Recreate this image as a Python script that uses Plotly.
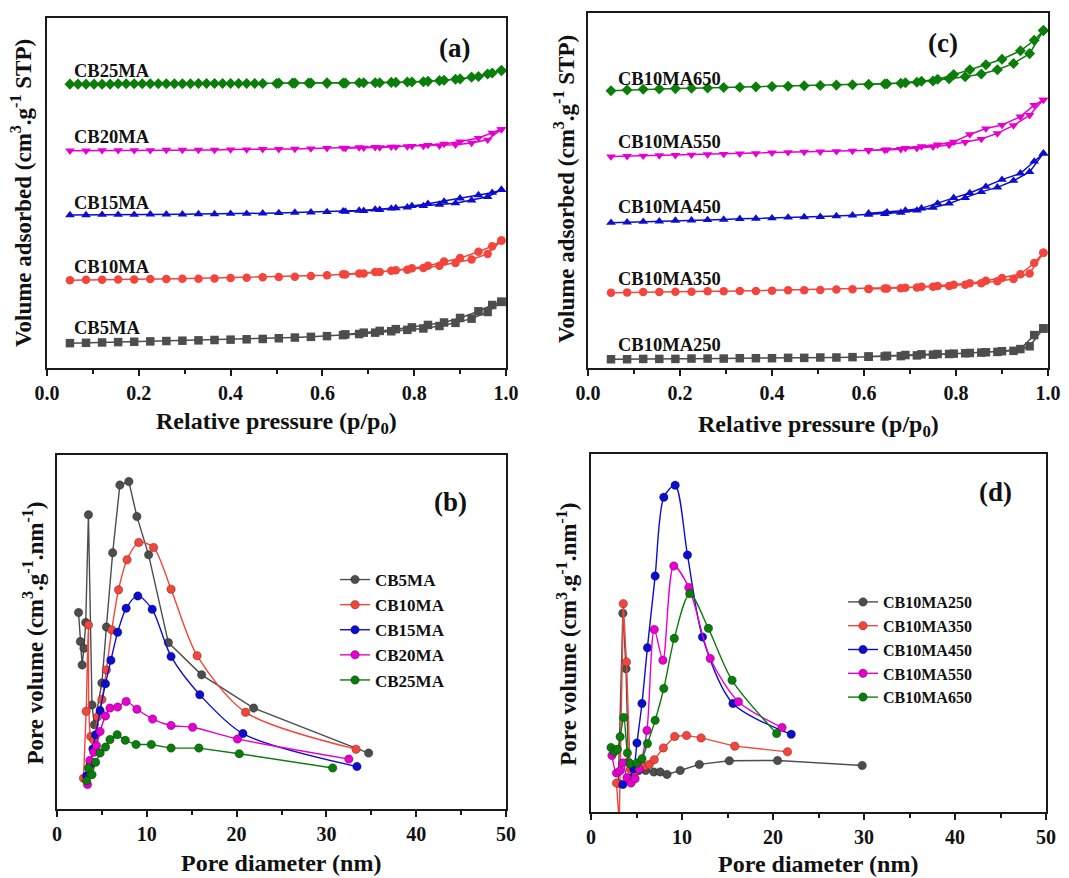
import plotly.graph_objects as go

FONT = "Liberation Serif"
GRAY = "#4d4d4d"
RED = "#f2463c"
BLUE = "#0d0dcf"
MAGENTA = "#e600d0"
GREEN = "#0a7d0a"

# ---------------- (a) / (c) isotherms ----------------
P_ADS = [0.05, 0.085, 0.12, 0.155, 0.19, 0.225, 0.26, 0.295, 0.33, 0.365, 0.40, 0.435, 0.47, 0.505,
         0.54, 0.575, 0.61, 0.645, 0.68, 0.715, 0.75, 0.785, 0.82, 0.855, 0.89, 0.925, 0.96, 0.99]
P_DES_A = [0.99, 0.97, 0.94, 0.90, 0.865, 0.83, 0.795, 0.76, 0.725, 0.69, 0.65]
P_DES_A25 = [0.99, 0.97, 0.94, 0.90, 0.865, 0.83, 0.795, 0.76, 0.725, 0.69, 0.65, 0.61, 0.57, 0.535, 0.50,
             0.4525, 0.4175, 0.3825, 0.3475, 0.3125, 0.2775, 0.2425, 0.2075, 0.1725, 0.1375, 0.1025, 0.0675]
P_DES_C = [0.99, 0.97, 0.94, 0.90, 0.865, 0.83, 0.795, 0.76, 0.725, 0.69, 0.65, 0.61]

A_NAMES = ["CB5MA", "CB10MA", "CB15MA", "CB20MA", "CB25MA"]
A_ADS = {
    "CB5MA": [7.1, 7.2, 7.3, 7.4, 7.5, 7.6, 7.7, 7.8, 7.9, 8.0, 8.1, 8.2, 8.3, 8.5, 8.7, 8.9, 9.1, 9.4, 9.7, 10.1,
              10.5, 10.9, 11.3, 12.0, 12.9, 14.1, 16.0, 18.9],
    "CB10MA": [25.1, 25.2, 25.2, 25.3, 25.3, 25.4, 25.4, 25.5, 25.5, 25.6, 25.7, 25.8, 25.9, 26.0, 26.1, 26.3,
               26.5, 26.8, 27.0, 27.4, 27.8, 28.1, 28.6, 29.2, 30.0, 31.0, 32.6, 36.4],
    "CB15MA": [43.7, 43.7, 43.8, 43.8, 43.8, 43.9, 43.9, 43.9, 44.0, 44.0, 44.1, 44.1, 44.2, 44.3, 44.4, 44.5,
               44.6, 44.8, 45.0, 45.3, 45.6, 45.9, 46.3, 46.7, 47.1, 47.9, 48.9, 50.9],
    "CB20MA": [62.1, 62.1, 62.2, 62.2, 62.2, 62.2, 62.3, 62.3, 62.3, 62.3, 62.4, 62.4, 62.5, 62.5, 62.6, 62.7,
               62.8, 62.9, 63.0, 63.1, 63.2, 63.3, 63.4, 63.5, 63.8, 64.3, 65.2, 68.2],
    "CB25MA": [81.1, 81.1, 81.1, 81.2, 81.2, 81.2, 81.2, 81.2, 81.3, 81.3, 81.3, 81.3, 81.3, 81.4, 81.4, 81.4,
               81.4, 81.4, 81.5, 81.5, 81.6, 81.7, 81.8, 82.1, 82.5, 83.1, 84.0, 85.0],
}
A_DES = {
    "CB5MA": [18.9, 18.0, 16.2, 14.3, 13.0, 12.3, 11.6, 11.1, 10.6, 10.1, 9.6],
    "CB10MA": [36.4, 34.8, 33.2, 31.4, 30.4, 29.2, 28.5, 27.9, 27.4, 27.0, 26.7],
    "CB15MA": [50.9, 50.1, 49.4, 48.5, 47.6, 46.9, 46.3, 45.7, 45.2, 44.9, 44.7],
    "CB20MA": [68.2, 67.2, 65.7, 64.7, 64.0, 63.7, 63.4, 63.2, 63.0, 62.9, 62.8],
    "CB25MA": [85.0, 84.3, 83.3, 82.6, 82.2, 81.9, 81.7, 81.6, 81.5, 81.5, 81.4, 81.4, 81.4, 81.4, 81.3,
               81.3, 81.3, 81.3, 81.3, 81.2, 81.2, 81.2, 81.2, 81.2, 81.1, 81.1, 81.1],
}
A_LABEL_Y = [11.4, 29.0, 47.1, 66.0, 84.9]

C_NAMES = ["CB10MA250", "CB10MA350", "CB10MA450", "CB10MA550", "CB10MA650"]
C_ADS = {
    "CB10MA250": [2.5, 2.5, 2.6, 2.6, 2.6, 2.7, 2.7, 2.7, 2.8, 2.8, 2.8, 2.9, 2.9, 3.0, 3.0, 3.1, 3.2, 3.3,
                  3.4, 3.6, 3.8, 4.0, 4.2, 4.4, 4.6, 4.9, 6.2, 11.3],
    "CB10MA350": [21.5, 21.6, 21.7, 21.7, 21.8, 21.8, 21.9, 21.9, 22.0, 22.0, 22.1, 22.2, 22.2, 22.3, 22.4,
                  22.5, 22.6, 22.7, 22.8, 23.0, 23.2, 23.4, 23.8, 24.2, 24.8, 25.4, 27.0, 32.9],
    "CB10MA450": [41.5, 41.6, 41.8, 41.9, 42.1, 42.2, 42.3, 42.4, 42.6, 42.7, 42.8, 43.0, 43.1, 43.2, 43.4,
                  43.6, 43.8, 44.0, 44.4, 45.0, 45.8, 47.0, 48.6, 50.3, 51.6, 53.5, 56.0, 61.3],
    "CB10MA550": [60.4, 60.5, 60.6, 60.7, 60.8, 60.9, 61.0, 61.1, 61.2, 61.3, 61.5, 61.6, 61.7, 61.8, 61.9,
                  62.0, 62.1, 62.3, 62.5, 62.8, 63.2, 63.7, 64.5, 65.4, 67.0, 69.3, 72.2, 76.6],
    "CB10MA650": [79.2, 79.4, 79.6, 79.7, 79.8, 79.9, 80.0, 80.1, 80.2, 80.3, 80.4, 80.5, 80.6, 80.7, 80.8,
                  80.9, 81.0, 81.1, 81.3, 81.6, 82.0, 82.6, 83.2, 84.0, 85.2, 87.0, 89.8, 96.4],
}
C_DES = {
    "CB10MA250": [11.3, 9.4, 5.4, 4.8, 4.5, 4.3, 4.1, 4.0, 3.9, 3.7, 3.5, 3.3],
    "CB10MA350": [32.9, 30.0, 26.8, 25.7, 24.9, 24.2, 23.8, 23.4, 23.2, 22.9, 22.7, 22.6],
    "CB10MA450": [61.3, 59.0, 55.6, 53.8, 51.8, 50.0, 48.6, 47.0, 45.6, 45.0, 44.5, 44.2],
    "CB10MA550": [76.6, 75.1, 71.8, 69.4, 68.4, 66.7, 64.6, 63.8, 63.3, 62.8, 62.4, 62.2],
    "CB10MA650": [96.4, 93.6, 90.6, 88.2, 86.6, 85.2, 83.8, 82.5, 81.9, 81.5, 81.2, 81.0],
}
C_LABEL_Y = [6.7, 25.3, 45.9, 64.5, 82.6]

# ---------------- (b) / (d) pore size distributions ----------------
B_X = {
    "CB5MA": [2.4, 2.6, 2.8, 3.0, 3.2, 3.5, 3.9, 4.15, 5.0, 5.5, 6.2, 7.0, 8.0, 8.9, 10.2, 12.4, 16.1, 21.9, 34.7],
    "CB10MA": [2.95, 3.25, 3.5, 3.75, 4.1, 4.5, 5.0, 5.5, 6.1, 6.85, 7.8, 9.1, 10.75, 12.7, 15.6, 21.0, 33.3],
    "CB15MA": [3.3, 3.7, 4.0, 4.3, 4.8, 5.4, 6.0, 6.75, 7.7, 9.0, 10.6, 12.7, 15.9, 20.7, 33.4],
    "CB20MA": [3.4, 3.65, 4.1, 4.4, 4.8, 5.4, 5.9, 6.75, 7.7, 8.9, 10.65, 12.7, 15.1, 20.1, 32.5],
    "CB25MA": [3.3, 3.5, 3.9, 4.3, 4.8, 5.4, 5.9, 6.7, 7.6, 8.8, 10.5, 12.7, 15.8, 20.3, 30.7],
}
B_Y = {
    "CB5MA": [55.5, 47.3, 40.7, 45.4, 52.7, 83.1, 29.4, 23.8, 35.6, 51.4, 72.4, 91.5, 92.5, 82.6, 71.8, 47.0,
              37.9, 28.5, 15.8],
    "CB10MA": [8.7, 27.6, 52.0, 20.5, 19.5, 26.0, 30.9, 39.3, 50.6, 61.9, 70.4, 75.3, 73.9, 62.1, 43.3, 27.3, 16.9],
    "CB15MA": [9.4, 12.5, 17.0, 21.0, 27.8, 35.4, 42.0, 49.9, 56.7, 60.2, 56.4, 43.1, 32.3, 21.3, 12.0],
    "CB20MA": [6.9, 13.7, 16.0, 17.9, 21.9, 26.3, 28.5, 28.8, 30.4, 28.2, 25.4, 23.6, 23.1, 19.8, 14.1],
    "CB25MA": [8.0, 11.6, 9.7, 13.2, 15.8, 17.5, 19.6, 21.0, 19.4, 18.2, 18.2, 17.2, 17.2, 15.6, 11.6],
}
D_X = {
    "CB10MA250": [3.0, 3.5, 3.85, 4.1, 4.6, 5.2, 6.0, 6.9, 7.6, 8.35, 9.8, 11.9, 15.2, 20.5, 29.8],
    "CB10MA350": [2.8, 3.1, 3.55, 3.9, 4.3, 4.8, 5.3, 5.9, 6.4, 6.95, 7.95, 9.2, 10.5, 12.1, 15.8, 21.6],
    "CB10MA450": [3.5, 4.2, 4.7, 5.05, 5.6, 6.2, 7.05, 8.0, 9.25, 10.6, 12.25, 15.6, 22.0],
    "CB10MA550": [2.3, 2.8, 3.2, 3.5, 3.95, 4.4, 4.85, 5.3, 6.15, 6.95, 7.9, 9.1, 10.75, 13.1, 16.2, 21.0],
    "CB10MA650": [2.2, 2.55, 2.9, 3.2, 3.6, 4.0, 4.3, 5.05, 5.6, 6.2, 7.05, 8.0, 9.15, 10.85, 12.9, 15.5, 20.4],
}
D_Y = {
    "CB10MA250": [8.0, 55.5, 40.0, 14.0, 12.0, 11.5, 11.6, 11.2, 11.2, 10.5, 11.6, 13.3, 14.3, 14.4, 13.0],
    "CB10MA350": [8.1, -3.0, 58.2, 41.9, 12.0, 11.5, 12.0, 12.8, 13.3, 14.6, 17.9, 21.1, 21.4, 20.7, 18.4, 16.8],
    "CB10MA450": [7.7, 9.5, 12.1, 19.3, 30.3, 45.9, 65.9, 87.9, 91.3, 71.8, 48.9, 30.3, 21.7],
    "CB10MA550": [15.8, 10.9, 11.5, 13.7, 9.6, 8.1, 9.3, 12.0, 22.8, 51.0, 42.4, 68.7, 62.7, 42.9, 30.8, 23.6],
    "CB10MA650": [18.0, 16.8, 17.5, 21.0, 26.4, 16.5, 13.5, 13.7, 14.9, 19.1, 25.6, 34.5, 48.5, 61.0, 51.3,
                  36.8, 21.9],
}

COLORS = [GRAY, RED, BLUE, MAGENTA, GREEN]
ISO_SYMBOLS = ["square", "circle", "triangle-up", "triangle-down", "diamond"]
B_SHAPES = ["linear", "spline", "spline", "spline", "linear"]
D_SHAPES = ["linear", "linear", "spline", "spline", "spline"]

fig = go.Figure()

# (a)
for i, n in enumerate(A_NAMES):
    des_x = P_DES_A25 if n == "CB25MA" else P_DES_A
    fig.add_trace(go.Scatter(
        x=P_ADS + des_x, y=A_ADS[n] + A_DES[n], mode="lines+markers", name=n, showlegend=False,
        line=dict(color=COLORS[i], width=1.5),
        marker=dict(symbol=ISO_SYMBOLS[i], size=8.5, color=COLORS[i]),
        xaxis="x", yaxis="y"))
# (c)
for i, n in enumerate(C_NAMES):
    fig.add_trace(go.Scatter(
        x=P_ADS + P_DES_C, y=C_ADS[n] + C_DES[n], mode="lines+markers", name=n, showlegend=False,
        line=dict(color=COLORS[i], width=1.5),
        marker=dict(symbol=ISO_SYMBOLS[i], size=8.5, color=COLORS[i]),
        xaxis="x2", yaxis="y2"))
# (b)
for i, n in enumerate(A_NAMES):
    fig.add_trace(go.Scatter(
        x=B_X[n], y=B_Y[n], mode="lines+markers", name=n, legend="legend",
        line=dict(color=COLORS[i], width=1.4, shape=B_SHAPES[i], smoothing=0.8),
        marker=dict(symbol="circle", size=8.5, color=COLORS[i], line=dict(color="rgba(0,0,0,0.35)", width=0.8)),
        xaxis="x3", yaxis="y3"))
# (d)
for i, n in enumerate(C_NAMES):
    fig.add_trace(go.Scatter(
        x=D_X[n], y=D_Y[n], mode="lines+markers", name=n, legend="legend2",
        line=dict(color=COLORS[i], width=1.4, shape=D_SHAPES[i], smoothing=0.8),
        marker=dict(symbol="circle", size=8.5, color=COLORS[i], line=dict(color="rgba(0,0,0,0.35)", width=0.8)),
        xaxis="x4", yaxis="y4"))

W, H = 1069, 878


def dom_x(a, b):
    return [a / W, b / W]


def dom_y(top, bottom):
    return [1 - bottom / H, 1 - top / H]


frame = dict(showline=True, linecolor="#1a1a1a", linewidth=2, mirror=True, showgrid=False, zeroline=False,
             automargin=False)
tickfont = dict(family=FONT, size=20, color="#111", weight="bold")


def xax(dom, rng, dtick, minor, fmt):
    return dict(domain=dom, range=rng, dtick=dtick, tick0=0, tickformat=fmt, ticks="outside", ticklen=6,
                tickwidth=1.5, tickcolor="#1a1a1a", tickfont=tickfont,
                minor=dict(dtick=minor, ticks="outside", ticklen=4, tickwidth=1.5, tickcolor="#1a1a1a"), **frame)


def yax(dom, rng, anchor):
    return dict(domain=dom, range=rng, showticklabels=False, ticks="", anchor=anchor, **frame)


fig.update_layout(
    width=W, height=H, margin=dict(l=0, r=0, t=0, b=0, pad=0, autoexpand=False),
    paper_bgcolor="white", plot_bgcolor="white",
    font=dict(family=FONT, size=16, color="#111"),
    xaxis=xax(dom_x(47, 506), [0, 1.0], 0.2, 0.1, ".1f") | dict(anchor="y"),
    yaxis=yax(dom_y(18, 368), [0, 100], "x"),
    xaxis2=xax(dom_x(588, 1048), [0, 1.0], 0.2, 0.1, ".1f") | dict(anchor="y2"),
    yaxis2=yax(dom_y(13, 368), [0, 101.4], "x2"),
    xaxis3=xax(dom_x(57, 506), [0, 50], 10, 5, "d") | dict(anchor="y3"),
    yaxis3=yax(dom_y(455, 809), [0, 100], "x3"),
    xaxis4=xax(dom_x(591, 1046), [0, 50], 10, 5, "d") | dict(anchor="y4"),
    yaxis4=yax(dom_y(454, 812), [0, 100], "x4"),
    legend=dict(x=335 / W, y=1 - 562 / H, xanchor="left", yanchor="top", bgcolor="rgba(0,0,0,0)",
                font=dict(family=FONT, size=17, color="#111", weight="bold")),
    legend2=dict(x=843 / W, y=1 - 585 / H, xanchor="left", yanchor="top", bgcolor="rgba(0,0,0,0)",
                 font=dict(family=FONT, size=16, color="#111", weight="bold")),
)

ann = []
# series labels on isotherms
for n, yv in zip(A_NAMES, A_LABEL_Y):
    ann.append(dict(x=0.054, y=yv, xref="x", yref="y", text="<b>" + n + "</b>", showarrow=False,
                    xanchor="left", yanchor="middle", font=dict(family=FONT, size=18.5, color="#111")))
for n, yv in zip(C_NAMES, C_LABEL_Y):
    ann.append(dict(x=0.061, y=yv, xref="x2", yref="y2", text="<b>" + n + "</b>", showarrow=False,
                    xanchor="left", yanchor="middle", font=dict(family=FONT, size=18.5, color="#111")))

PANEL_TAGS = [("(a)", 454.7, 47.7), ("(c)", 943.3, 43.3), ("(b)", 450, 501.7), ("(d)", 995.7, 491.7)]
for t, px, py in PANEL_TAGS:
    ann.append(dict(x=px / W, y=1 - py / H, xref="paper", yref="paper", text="<b>" + t + "</b>",
                    showarrow=False, xanchor="center", yanchor="middle",
                    font=dict(family=FONT, size=27, color="#111")))

XT_ISO = "<b>Relative pressure (p/p<sub>0</sub>)</b>"
XT_PSD = "<b>Pore diameter (nm)</b>"
YT_ISO = "<b>Volume adsorbed (cm<sup>3</sup>.g<sup>-1</sup> STP)</b>"
YT_PSD = "<b>Pore volume (cm<sup>3</sup>.g<sup>-1</sup>.nm<sup>-1</sup>)</b>"
TITLES = [(XT_ISO, 276.7, 423, 0, 24), (XT_ISO, 818, 426, 0, 24), (XT_PSD, 280.7, 862.5, 0, 24),
          (XT_PSD, 817.5, 863.5, 0, 24),
          (YT_ISO, 22, 193, -90, 23), (YT_ISO, 565, 189, -90, 23), (YT_PSD, 33.3, 633.3, -90, 23),
          (YT_PSD, 566.7, 634, -90, 23)]
for t, px, py, ang, fs in TITLES:
    ann.append(dict(x=px / W, y=1 - py / H, xref="paper", yref="paper", text=t, showarrow=False,
                    xanchor="center", yanchor="middle", textangle=ang,
                    font=dict(family=FONT, size=fs, color="#111")))

fig.update_layout(annotations=ann)
fig.write_html("out.html")
